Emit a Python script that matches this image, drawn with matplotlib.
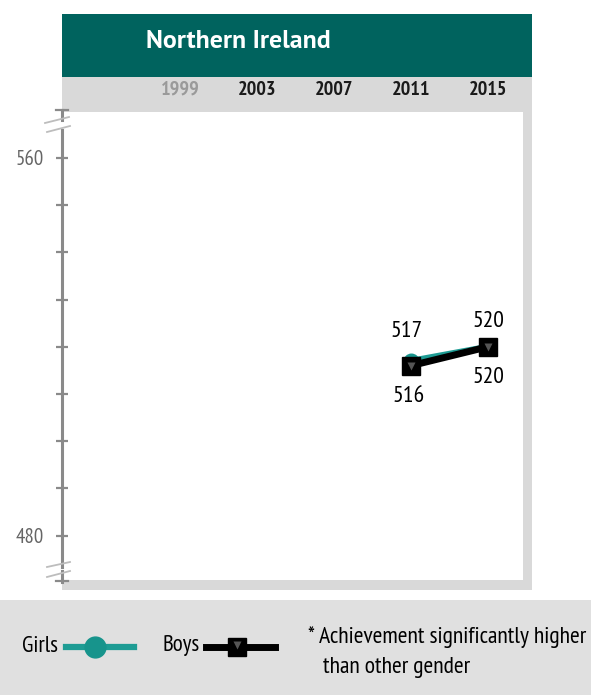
import matplotlib
matplotlib.use("Agg")
import matplotlib.pyplot as plt
from matplotlib.patches import Rectangle
from matplotlib.lines import Line2D
from matplotlib import font_manager

_fl = font_manager.fontManager.ttflist
_names = {f.name for f in _fl}
_prefs = ['Myriad Pro Condensed', 'Myriad Pro Cond', 'PT Sans Narrow', 'Open Sans Condensed',
          'Roboto Condensed', 'Fira Sans Condensed', 'Archivo Narrow', 'Asap Condensed',
          'Encode Sans Condensed', 'Liberation Sans Narrow', 'Arial Narrow', 'Roboto']
FONT = next((n for n in _prefs if n in _names), 'DejaVu Sans')

def _has_bold(name):
    for f in _fl:
        if f.name == name and f.style == 'normal':
            w = f.weight
            if isinstance(w, str):
                w = {'bold': 700, 'semibold': 600, 'demibold': 600}.get(w.lower(), 400)
            if 600 <= int(w) <= 700 and '[' not in f.fname:  # skip variable fonts
                return True
    return False

_tprefs = ['Myriad Pro', 'Source Sans Pro', 'Source Sans 3', 'PT Sans', 'Open Sans', 'Lato',
           'Noto Sans', 'Liberation Sans']
TFONT = next((n for n in _tprefs if n in _names and _has_bold(n)), 'DejaVu Sans')
plt.rcParams['font.family'] = [FONT, 'DejaVu Sans']

# ---- data ----
title = "Northern Ireland"
years = [1999, 2003, 2007, 2011, 2015]
year_active = [False, True, True, True, True]
girls_years = [2011, 2015]
girls_scores = [517, 520]
boys_years = [2011, 2015]
boys_scores = [516, 520]
ytick_vals = [480, 490, 500, 510, 520, 530, 540, 550, 560]
ytick_labels = ["480", "", "", "", "", "", "", "", "560"]
legend_note = ["* Achievement significantly higher", "than other gender"]

W, H = 591, 695
fig = plt.figure(figsize=(W / 100, H / 100), dpi=100)

def add_rect(x0, y0, x1, y1, color):
    fig.add_artist(Rectangle((x0 / W, 1 - y1 / H), (x1 - x0) / W, (y1 - y0) / H,
                             transform=fig.transFigure, color=color, zorder=-5, lw=0))

TEAL_HDR = '#00635E'
GRAY = '#D9D9D9'
add_rect(62, 77, 532, 590, GRAY)
add_rect(62, 14, 532, 77, TEAL_HDR)
add_rect(0, 600, 591, 695, '#E0E0E0')

fig.text(146 / W, 1 - 41 / H, title, color='white', fontsize=18.5, fontweight='bold',
         family=[TFONT, 'DejaVu Sans'], ha='left', va='center', zorder=5)

# plot area (white) in pixel coords: x 62..523, y 112..580
AX0, AX1, AY0, AY1 = 62, 523, 112, 580
ax = fig.add_axes((AX0 / W, 1 - AY1 / H, (AX1 - AX0) / W, (AY1 - AY0) / H))
ax.set_zorder(2)
ax.set_facecolor('white')
# pixel mapping: x px = 180 + 19.25*(year-1999); y px = 158 + 4.72*(560-v)
PXY, PXV = 19.25, 4.72
ax.set_xlim(1999 - (180 - AX0) / PXY, 1999 + (AX1 - 180) / PXY)
ax.set_ylim(560 - (AY1 - 158) / PXV, 560 + (158 - AY0) / PXV)
for s in ['top', 'right', 'bottom']:
    ax.spines[s].set_visible(False)
ax.spines['left'].set_color('#8A8A8A')
ax.spines['left'].set_linewidth(2.2)
ax.spines['left'].set_bounds(560 - (567 - 158) / PXV, 560 + (158 - 130) / PXV)
ax.set_xticks([])
ax.set_yticks(ytick_vals)
ax.set_yticklabels(ytick_labels)
ax.tick_params(axis='y', direction='inout', length=8.5, width=1.6, color='#8A8A8A',
               labelsize=15, labelcolor='#666666', pad=9)

# year labels in the gray band
for y, act in zip(years, year_active):
    ax.text(y, 1 + 22 / (AY1 - AY0), str(y), transform=ax.get_xaxis_transform(), ha='center',
            va='center', fontsize=14.5, fontweight='bold', color='#1a1a1a' if act else '#9a9a9a',
            clip_on=False)

def fline(xs, ys, **kw):
    fig.add_artist(Line2D([x / W for x in xs], [1 - y / H for y in ys], transform=fig.transFigure,
                          zorder=6, **kw))

# axis extensions with break marks
fline([62, 62], [110, 120], color='#8A8A8A', lw=2.2)
fline([56, 68], [110, 110], color='#8A8A8A', lw=1.6)
fline([62, 62], [571, 582], color='#8A8A8A', lw=2.2)
fline([56, 68], [581, 581], color='#8A8A8A', lw=1.6)
for (x0, y0, x1, y1) in [(45, 123, 69, 117), (47, 132, 70, 126), (47, 567, 70, 562), (47, 577, 70, 571)]:
    fline([x0, x1], [y0, y1], color='#BDBDBD', lw=1.3)

# lines and markers
ax.plot(girls_years, girls_scores, color='#1E9C94', lw=4.5, zorder=3, solid_capstyle='butt')
ax.plot(boys_years, boys_scores, color='black', lw=5, zorder=4, solid_capstyle='butt')
ax.plot(girls_years, girls_scores, 'o', ms=10.5, color='#17948C', zorder=3)
ax.plot(boys_years, boys_scores, 's', ms=12.5, color='black', zorder=5)
ax.plot(boys_years, boys_scores, 'v', ms=6, color='#555555', mec='none', zorder=6)

# value labels (offsets in points)
girls_off = [(-3, 21), (0, 18)]
boys_off = [(-2, -22), (0, -22)]
for (x, v), off in zip(zip(girls_years, girls_scores), girls_off):
    ax.annotate(str(v), (x, v), xytext=off, textcoords='offset points', ha='center', va='center',
                fontsize=17)
for (x, v), off in zip(zip(boys_years, boys_scores), boys_off):
    ax.annotate(str(v), (x, v), xytext=off, textcoords='offset points', ha='center', va='center',
                fontsize=17)

# legend
fig.text(22 / W, 1 - 646 / H, "Girls", fontsize=16.5, ha='left', va='center')
fline([66, 134], [647, 647], color='#1E9C94', lw=4.5)
fig.add_artist(Line2D([95 / W], [1 - 647 / H], transform=fig.transFigure, marker='o', ms=15,
                      color='#17948C', lw=0, zorder=7))
fig.text(163 / W, 1 - 646 / H, "Boys", fontsize=16.5, ha='left', va='center')
fline([206, 275], [647, 647], color='black', lw=5)
fig.add_artist(Line2D([237 / W], [1 - 647 / H], transform=fig.transFigure, marker='s', ms=13,
                      color='black', lw=0, zorder=7))
fig.add_artist(Line2D([237 / W], [1 - 645 / H], transform=fig.transFigure, marker='v', ms=6,
                      color='#555555', mec='none', lw=0, zorder=8))
fig.text(308 / W, 1 - 637 / H, legend_note[0], fontsize=17, ha='left', va='center')
fig.text(323 / W, 1 - 667 / H, legend_note[1], fontsize=17, ha='left', va='center')

fig.savefig('out.png', dpi=100, facecolor='white')
